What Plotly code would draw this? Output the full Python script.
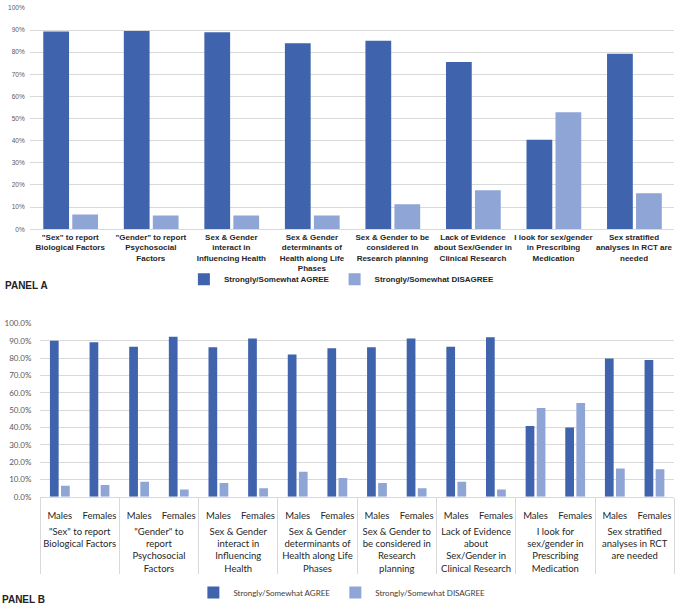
import plotly.graph_objects as go

# Panel A - all respondents
questions_a = ['"Sex" to report<br>Biological Factors',
               '"Gender" to report<br>Psychosocial<br>Factors',
               'Sex & Gender<br>interact in<br>Influencing Health',
               'Sex & Gender<br>determinants of<br>Health along Life<br>Phases',
               'Sex & Gender to be<br>considered in<br>Research planning',
               'Lack of Evidence<br>about Sex/Gender in<br>Clinical Research',
               'I look for sex/gender<br>in Prescribing<br>Medication',
               'Sex stratified<br>analyses in RCT are<br>needed']
agree_a = [89.3, 89.6, 89.0, 84.1, 85.2, 75.6, 40.4, 79.3]
disagree_a = [6.7, 6.2, 6.2, 6.2, 11.3, 17.6, 52.9, 16.3]

# Panel B - by sex of respondent
questions_b = ['"Sex" to report<br>Biological Factors',
               '"Gender" to<br>report<br>Psychosocial<br>Factors',
               'Sex & Gender<br>interact in<br>Influencing<br>Health',
               'Sex & Gender<br>determinants of<br>Health along Life<br>Phases',
               'Sex & Gender to<br>be considered in<br>Research<br>planning',
               'Lack of Evidence<br>about<br>Sex/Gender in<br>Clinical Research',
               'I look for<br>sex/gender in<br>Prescribing<br>Medication',
               'Sex stratified<br>analyses in RCT<br>are needed']
sexes = ['Males', 'Females']
agree_males = [90.2, 86.6, 86.4, 82.2, 86.4, 86.6, 40.9, 79.9]
agree_females = [89.2, 92.4, 91.5, 85.8, 91.5, 92.2, 40.0, 79.0]
disagree_males = [6.4, 8.7, 8.0, 14.4, 8.0, 8.7, 51.3, 16.3]
disagree_females = [6.8, 4.2, 4.9, 10.8, 4.9, 4.2, 54.2, 15.9]

AGREE = '#3F63AC'
DISAGREE = '#8FA5D6'
GRID = '#D9D9D9'
B_FONT = 'Lato, Calibri, sans-serif'

# empty second line under Males/Females leaves room above the question labels
sex_labels = [s + '<br>\u00a0' for s in sexes]
x_b = [[q for q in questions_b for s in sex_labels], [s for q in questions_b for s in sex_labels]]
agree_b = [v for pair in zip(agree_males, agree_females) for v in pair]
disagree_b = [v for pair in zip(disagree_males, disagree_females) for v in pair]

fig = go.Figure()
fig.add_trace(go.Bar(x=questions_a, y=agree_a, name='Strongly/Somewhat AGREE',
                     marker_color=AGREE, width=0.32, offset=-0.335,
                     xaxis='x', yaxis='y', legend='legend'))
fig.add_trace(go.Bar(x=questions_a, y=disagree_a, name='Strongly/Somewhat DISAGREE',
                     marker_color=DISAGREE, width=0.32, offset=0.025,
                     xaxis='x', yaxis='y', legend='legend'))
fig.add_trace(go.Bar(x=x_b, y=agree_b, name='Strongly/Somewhat AGREE',
                     marker_color=AGREE, width=0.22, offset=-0.25,
                     xaxis='x2', yaxis='y2', legend='legend2'))
fig.add_trace(go.Bar(x=x_b, y=disagree_b, name='Strongly/Somewhat DISAGREE',
                     marker_color=DISAGREE, width=0.22, offset=0.03,
                     xaxis='x2', yaxis='y2', legend='legend2'))

fig.update_traces(marker_line_width=0)

fig.update_layout(
    width=677, height=609,
    margin=dict(l=0, r=0, t=0, b=0),
    plot_bgcolor='white', paper_bgcolor='white',
    barmode='group',
    font=dict(family='Liberation Sans, Arial, sans-serif', color='#262626'),
    xaxis=dict(domain=[0.0443, 0.996], anchor='y', type='category', range=[-0.5, 7.5],
               showline=True, linecolor=GRID, showgrid=False, tickangle=0,
               tickfont=dict(size=8, family='Liberation Sans, Arial', weight='bold', color='#262626')),
    yaxis=dict(domain=[0.6256, 0.9951], anchor='x', range=[0, 100], dtick=10,
               ticksuffix='%', showgrid=True, gridcolor=GRID, zeroline=False,
               ticks='outside', ticklen=3, tickcolor='white',
               tickfont=dict(size=6.5, color='#595959')),
    xaxis2=dict(domain=[0.0591, 0.996], anchor='y2', type='multicategory', range=[-0.5, 15.5],
                showline=True, linecolor=GRID, showgrid=False, tickangle=0,
                showdividers=True, dividercolor=GRID, dividerwidth=1,
                ticklabelstandoff=10,
                tickfont=dict(size=9.5, family=B_FONT, color='#262626')),
    yaxis2=dict(domain=[0.179, 0.468], anchor='x2', range=[0, 100], dtick=10,
                tickformat='.1f', ticksuffix='%', showgrid=True, gridcolor=GRID, zeroline=False,
                ticks='outside', ticklen=6, tickcolor='white',
                tickfont=dict(size=8, family=B_FONT, color='#595959')),
    legend=dict(orientation='h', x=0.505, y=0.542, xanchor='center', yanchor='middle',
                bgcolor='rgba(0,0,0,0)',
                font=dict(size=8, weight='bold', color='#262626'), itemwidth=30),
    legend2=dict(orientation='h', x=0.505, y=0.019, xanchor='center', yanchor='middle',
                 bgcolor='rgba(0,0,0,0)',
                 font=dict(size=8, family=B_FONT, color='#404040'), itemwidth=30),
)

fig.add_annotation(text='PANEL A', xref='paper', yref='paper', x=0.004, y=1 - 285 / 609,
                   xanchor='left', yanchor='middle', showarrow=False,
                   font=dict(size=10, weight='bold', color='#222222'))
fig.add_annotation(text='PANEL B', xref='paper', yref='paper', x=0.0, y=1 - 604 / 609,
                   xanchor='left', yanchor='middle', showarrow=False,
                   font=dict(size=10, weight='bold', color='#222222'))

# drop the browser's default page margin so the 677px figure sits flush
fig.write_html("out.html", config={'displayModeBar': False},
               post_script="document.body.style.margin='0';")
